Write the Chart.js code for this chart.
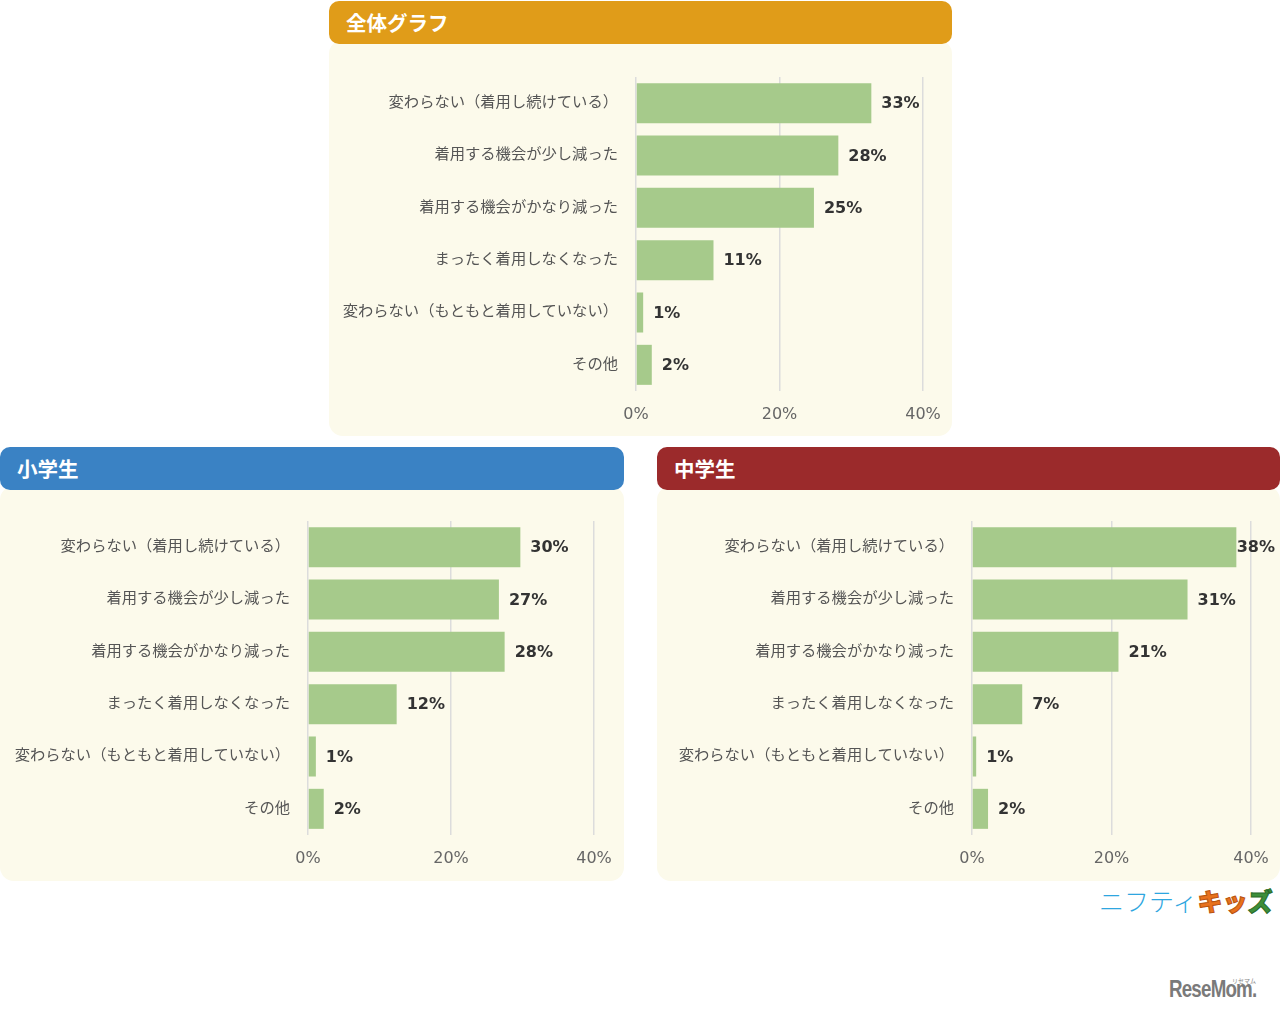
<!DOCTYPE html>
<html>
<head>
<meta charset="utf-8">
<script src="https://cdn.jsdelivr.net/npm/chart.js@4"></script>
<style>
  body { margin: 0; width: 1280px; height: 1013px; background: #fff; position: relative; overflow: hidden;
         font-family: "Noto Sans CJK JP", sans-serif; }
  .head { position: absolute; height: 43px; border-radius: 10px; color: #fff; font-weight: bold;
          font-size: 20.5px; line-height: 43px; padding-left: 17px; box-sizing: border-box; z-index: 2; }
  .body { position: absolute; background: #fcfaeb; border-radius: 14px; }
  .body canvas { position: absolute; left: 0; top: 0; }
  #nifty { position: absolute; left: 1099px; top: 885px; font-size: 25px; white-space: nowrap; line-height: 30px; }
  #nifty .a { color: #2ea6e0; font-weight: 300; }
  #nifty .b { color: #e8711d; font-weight: 900; -webkit-text-stroke: 1px #b8530f; }
  #nifty .c { color: #3d8f3a; font-weight: 900; -webkit-text-stroke: 1px #2a6a28; }
  #resemom { position: absolute; left: 1169px; top: 975px; font-family: "Liberation Sans", sans-serif;
             font-weight: bold; font-size: 24px; color: #7a7a7a; letter-spacing: -1px;
             transform: scaleX(0.78); transform-origin: left top; white-space: nowrap; }
  #ruby { position: absolute; left: 1232px; top: 976px; font-size: 6px; color: #888; }
</style>
</head>
<body>

<div class="head" style="left:329px;top:1px;width:623px;background:#e09c19;">全体グラフ</div>
<div class="body" style="left:329px;top:40px;width:623px;height:396px;"><canvas id="c1"></canvas></div>

<div class="head" style="left:0px;top:447px;width:624px;background:#3a82c4;">小学生</div>
<div class="body" style="left:0px;top:486px;width:624px;height:395px;"><canvas id="c2"></canvas></div>

<div class="head" style="left:657px;top:447px;width:623px;background:#9b2a2b;">中学生</div>
<div class="body" style="left:657px;top:486px;width:623px;height:395px;"><canvas id="c3"></canvas></div>

<div id="nifty"><span class="a">ニフティ</span><span class="b">キッ</span><span class="c">ズ</span></div>
<div id="resemom">ReseMom.</div>
<div id="ruby">リセマム</div>

<script>
const categories = [
  "変わらない（着用し続けている）",
  "着用する機会が少し減った",
  "着用する機会がかなり減った",
  "まったく着用しなくなった",
  "変わらない（もともと着用していない）",
  "その他"
];

const totalValues = [32.8, 28.2, 24.8, 10.8, 1.0, 2.2];
const totalLabels = ["33%", "28%", "25%", "11%", "1%", "2%"];

const elemValues = [29.7, 26.7, 27.5, 12.4, 1.1, 2.2];
const elemLabels = ["30%", "27%", "28%", "12%", "1%", "2%"];

const juniorValues = [37.9, 30.9, 21.0, 7.2, 0.6, 2.3];
const juniorLabels = ["38%", "31%", "21%", "7%", "1%", "2%"];

const xMax = 40;
const xStep = 20;

Chart.defaults.devicePixelRatio = 1;

// draws the percentage next to each bar
const valueLabels = {
  id: "valueLabels",
  afterDatasetsDraw(chart, args, opts) {
    const ctx = chart.ctx;
    const meta = chart.getDatasetMeta(0);
    ctx.save();
    ctx.font = "bold 16px 'DejaVu Sans'";
    ctx.fillStyle = "#333";
    ctx.textBaseline = "middle";
    meta.data.forEach((bar, i) => {
      const txt = opts.labels[i];
      const w = ctx.measureText(txt).width;
      let x = bar.x + 10;
      if (x + w > chart.width - 5) x = chart.width - 5 - w;
      ctx.fillText(txt, x, bar.y + 1);
    });
    ctx.restore();
  }
};

function makeChart(id, w, h, values, labels, axisLeft, padRight, padTop) {
  const cv = document.getElementById(id);
  cv.width = w;
  cv.height = h;
  cv.style.width = w + "px";
  cv.style.height = h + "px";
  new Chart(cv, {
    type: "bar",
    data: {
      labels: categories,
      datasets: [{
        data: values,
        backgroundColor: "#a6ca8b",
        borderWidth: 0,
        categoryPercentage: 1,
        barPercentage: 0.765
      }]
    },
    plugins: [valueLabels],
    options: {
      indexAxis: "y",
      responsive: false,
      animation: false,
      layout: { padding: { left: 0, right: padRight, top: padTop, bottom: 0 } },
      plugins: {
        legend: { display: false },
        tooltip: { enabled: false },
        valueLabels: { labels: labels }
      },
      scales: {
        x: {
          min: 0, max: xMax,
          grid: { color: "#dcdcdc", lineWidth: 1.5, drawTicks: false },
          border: { display: false },
          ticks: {
            stepSize: xStep,
            padding: 14,
            color: "#666",
            font: { family: "DejaVu Sans", size: 16 },
            callback: v => v + "%"
          },
          afterFit: s => {
            s.height = h - padTop - 314;
            s.paddingLeft = 0;
            s.paddingRight = 0;
          }
        },
        y: {
          grid: { display: false },
          border: { display: false },
          ticks: {
            padding: 10,
            labelOffset: -2,
            color: "#555",
            font: { family: "Noto Sans CJK JP", size: 15.3 }
          },
          afterFit: s => { s.width = axisLeft; }
        }
      }
    }
  });
}

makeChart("c1", 623, 396, totalValues, totalLabels, 307, 29, 37);
makeChart("c2", 624, 395, elemValues, elemLabels, 308, 30, 35);
makeChart("c3", 623, 395, juniorValues, juniorLabels, 315, 29, 35);
</script>
</body>
</html>
